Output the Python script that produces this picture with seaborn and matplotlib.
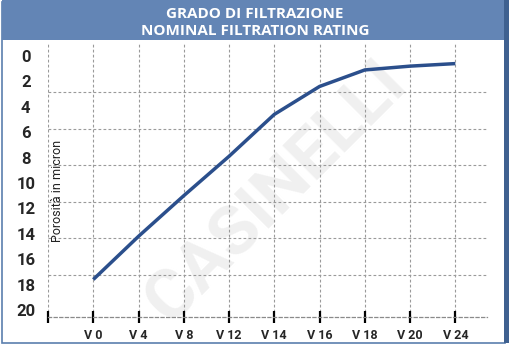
import numpy as np
import pandas as pd
import matplotlib
matplotlib.use('Agg')
import matplotlib.pyplot as plt
import seaborn as sns
from matplotlib.patches import Rectangle

# data
grades = ['V 0', 'V 4', 'V 8', 'V 12', 'V 14', 'V 16', 'V 18', 'V 20', 'V 24']
porosity = [17.6, 14.2, 11.0, 7.9, 4.6, 2.4, 1.1, 0.8, 0.6]
y_labels = [0, 2, 4, 6, 8, 10, 12, 14, 16, 18, 20]

df = pd.DataFrame({'grade': grades, 'micron': porosity})

sns.set_theme(style='white')
plt.rcParams['font.family'] = ['Roboto', 'DejaVu Sans']

W, H = 509, 351
fig = plt.figure(figsize=(W / 100, H / 100), dpi=100)
fig.patch.set_facecolor('white')

# frame + title band
fig.patches.append(Rectangle((2 / W, 8 / H), 503 / W, 341 / H, transform=fig.transFigure,
                             facecolor='white', edgecolor='#5b7fae', lw=1.2, zorder=0))
fig.patches.append(Rectangle((2 / W, 311 / H), 503 / W, 40 / H, transform=fig.transFigure,
                             facecolor='#6385b5', edgecolor='none', zorder=1))
fig.patches.append(Rectangle((504 / W, 8 / H), 5 / W, 343 / H, transform=fig.transFigure,
                             facecolor='#3f6190', edgecolor='none', zorder=1))
fig.text(255 / W, 1 - 14 / H, 'GRADO DI FILTRAZIONE', color='white', fontsize=11,
         fontweight='bold', family='Open Sans', ha='center', va='center')
fig.text(255 / W, 1 - 31 / H, 'NOMINAL FILTRATION RATING', color='white', fontsize=11,
         fontweight='bold', family='Open Sans', ha='center', va='center')

ax = fig.add_axes([48 / W, 34 / H, 439 / W, 275 / H])
ax.set_zorder(3)
ax.set_facecolor('none')

# faint watermark
ax.text(0.52, 0.45, 'CASINELLI', transform=ax.transAxes, rotation=45, fontsize=50,
        fontweight='bold', color='#f0f0f0', ha='center', va='center', zorder=0)

sns.lineplot(data=df, x='grade', y='micron', ax=ax, color='#2b4f8c', lw=2.5, zorder=3,
             solid_joinstyle='round', solid_capstyle='butt')

ax.set_xlim(-1, 8.7)
ax.set_ylim(20.55, -1.1)

ax.set_xticks(range(-1, 9))
ax.set_xticklabels([''] + grades)
ax.set_yticks(y_labels)
ax.set_yticklabels([str(v) for v in y_labels])
ax.set_yticks(np.arange(7) * 2.87, minor=True)

ax.tick_params(axis='x', bottom=True, direction='inout', length=9, width=1.6,
               color='black', labelsize=9, pad=4)
ax.tick_params(axis='y', which='both', length=0, labelsize=12, pad=16)
for lab in ax.get_xticklabels():
    lab.set_fontweight('bold')
for lab in ax.get_yticklabels():
    lab.set_fontweight('bold')
    lab.set_horizontalalignment('center')

ax.grid(False)
ax.xaxis.grid(True, which='major', color='#9a9a9a', ls=(0, (2.5, 2)), lw=0.8)
ax.yaxis.grid(True, which='minor', color='#9a9a9a', ls=(0, (2.5, 2)), lw=0.8)
ax.set_axisbelow(True)

for s in ['top', 'right', 'left']:
    ax.spines[s].set_visible(False)
ax.spines['bottom'].set_visible(True)
ax.spines['bottom'].set_color('#8a8a8a')
ax.spines['bottom'].set_linestyle((0, (2.5, 2)))
ax.spines['bottom'].set_linewidth(0.9)

ax.set_xlabel('')
ax.set_ylabel('')
ax.text(0.022, 0.46, 'Porosità in micron', transform=ax.transAxes, rotation=90,
        fontsize=9, ha='center', va='center', color='#222222')

fig.savefig('out.png', dpi=100)
